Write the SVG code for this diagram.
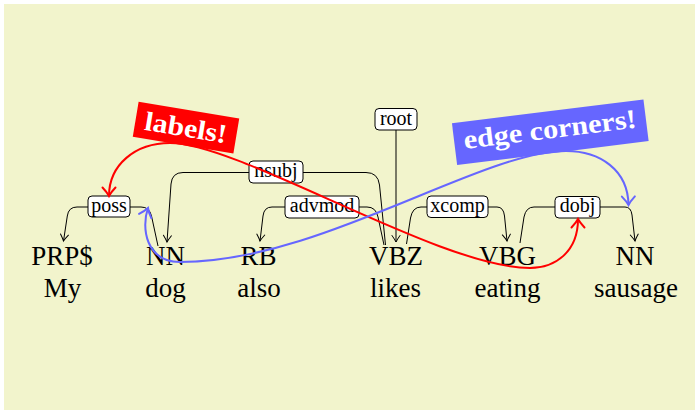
<svg xmlns="http://www.w3.org/2000/svg" width="695" height="410" viewBox="0 0 695 410">
<style>
  .tag, .word { font-family: "Liberation Serif", "Times New Roman", serif; font-size: 27px; fill: #000; text-anchor: middle; }
  .lbl rect { fill: #fff; stroke: #000; stroke-width: 1; }
  .lbl text { font-family: "Liberation Serif", "Times New Roman", serif; font-size: 20px; fill: #000; text-anchor: middle; }
  .edge { fill: none; stroke: #000; stroke-width: 1; marker-end: url(#arr); }
  .hl text { font-family: "Liberation Serif", "Times New Roman", serif; font-weight: bold; font-size: 27px; fill: #fff; text-anchor: middle; }
</style>
<defs>
  <marker id="arr" markerUnits="userSpaceOnUse" viewBox="-10 -6 12 12" markerWidth="12" markerHeight="12" refX="0" refY="0" orient="auto" overflow="visible">
    <path d="M -6.5 -4 Q -2.5 -1.2 0 0 Q -2.5 1.2 -6.5 4" fill="none" stroke="#000" stroke-width="1" stroke-linecap="round"/>
  </marker>
  <marker id="arrRed" markerUnits="userSpaceOnUse" viewBox="-12 -8 14 16" markerWidth="14" markerHeight="16" refX="0" refY="0" orient="auto-start-reverse" overflow="visible">
    <path d="M -8.5 -6.5 Q -3.5 -1.8 0 0 Q -3.5 1.8 -8.5 6.5" fill="none" stroke="#ff0000" stroke-width="2" stroke-linecap="round"/>
  </marker>
  <marker id="arrBlue" markerUnits="userSpaceOnUse" viewBox="-12 -8 14 16" markerWidth="14" markerHeight="16" refX="0" refY="0" orient="auto-start-reverse" overflow="visible">
    <path d="M -8.5 -6.5 Q -3.5 -1.8 0 0 Q -3.5 1.8 -8.5 6.5" fill="none" stroke="#6666ff" stroke-width="2" stroke-linecap="round"/>
  </marker>
</defs>

<rect id="background" x="4" y="4" width="691" height="406" fill="#f2f4cc"/>

<g id="connectors">
  <path id="e-poss" class="edge" d="M 158 246 L 151.5 216 Q 149.5 207 141 207 L 77 207 Q 68.5 207 67.3 216 L 63.5 241"/>
  <path id="e-nsubj" class="edge" d="M 385.5 245 L 379.5 185 Q 378 172.5 366 172.5 L 183 172.5 Q 172 172.5 171 184 L 167 242"/>
  <path id="e-advmod" class="edge" d="M 384 245 L 378 217 Q 376 207 367 207 L 272 207 Q 264 207 263 216 L 260 241"/>
  <path id="e-root" class="edge" d="M 396 130 L 396 242"/>
  <path id="e-xcomp" class="edge" d="M 406.5 244 L 410.5 218 Q 412.5 207 421 207 L 497 207 Q 503.5 207 504.5 216 L 507 241"/>
  <path id="e-dobj" class="edge" d="M 520 243 L 524 217 Q 526 207 534 207 L 625 207 Q 631 207 632 215 L 635 241"/>
</g>

<g id="w1"><text class="tag" x="62" y="265">PRP$</text><text class="word" x="62.5" y="297">My</text></g>
<g id="w2"><text class="tag" x="165.5" y="265">NN</text><text class="word" x="165.5" y="297">dog</text></g>
<g id="w3"><text class="tag" x="258.5" y="265">RB</text><text class="word" x="259" y="297">also</text></g>
<g id="w4"><text class="tag" x="396" y="265">VBZ</text><text class="word" x="395.5" y="297">likes</text></g>
<g id="w5"><text class="tag" x="507.5" y="265">VBG</text><text class="word" x="507.5" y="297">eating</text></g>
<g id="w6"><text class="tag" x="635" y="265">NN</text><text class="word" x="636" y="297">sausage</text></g>

<g id="l-poss" class="lbl"><rect x="88" y="196" width="42" height="21" rx="4"/><text x="109" y="211.5">poss</text></g>
<g id="l-nsubj" class="lbl"><rect x="249" y="161" width="54" height="22" rx="4"/><text x="276" y="177">nsubj</text></g>
<g id="l-advmod" class="lbl"><rect x="285" y="196" width="74" height="22" rx="4"/><text x="322" y="212">advmod</text></g>
<g id="l-root" class="lbl"><rect x="375" y="108.5" width="42" height="21.5" rx="4"/><text x="396" y="124.5">root</text></g>
<g id="l-xcomp" class="lbl"><rect x="427" y="196" width="61" height="21.5" rx="4"/><text x="457.5" y="212">xcomp</text></g>
<g id="l-dobj" class="lbl"><rect x="555" y="196.5" width="45" height="21.5" rx="4"/><text x="577.5" y="212">dobj</text></g>

<g id="highlight-connectors">
  <path id="red-curve" d="M 109 196 C 109 165, 135 143, 170 143 C 240 143, 440 268, 530 268 C 555 268, 578 252, 578 219" fill="none" stroke="#ff0000" stroke-width="2" marker-start="url(#arrRed)" marker-end="url(#arrRed)"/>
  <path id="blue-curve" d="M 148 208 C 141 228, 146 262, 180 262 C 320 262, 480 151, 566 151 C 600 151, 628 170, 628.5 205" fill="none" stroke="#6666ff" stroke-width="2" marker-start="url(#arrBlue)" marker-end="url(#arrBlue)"/>
</g>

<g id="label-red" class="hl" transform="translate(186 127.7) rotate(9.5)">
  <rect x="-51" y="-17.75" width="102" height="35.5" fill="#ff0000"/>
  <text x="0" y="9" textLength="83" lengthAdjust="spacingAndGlyphs">labels!</text>
</g>
<g id="label-blue" class="hl" transform="translate(550.3 132.2) rotate(-7.1)">
  <rect x="-96.5" y="-21" width="193" height="42" fill="#6666ff"/>
  <text x="0" y="6" textLength="174" lengthAdjust="spacingAndGlyphs">edge corners!</text>
</g>
</svg>
